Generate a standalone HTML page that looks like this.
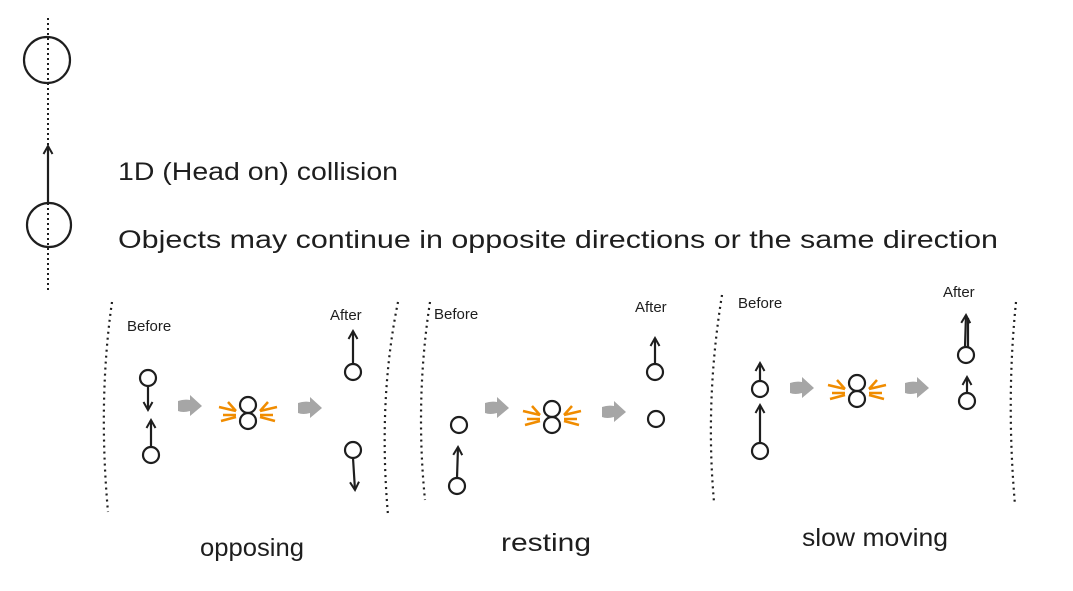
<!DOCTYPE html>
<html><head><meta charset="utf-8"><style>
html,body{margin:0;padding:0;background:#fff;width:1073px;height:591px;overflow:hidden}
text{font-family:"Liberation Sans",sans-serif;fill:#1e1e1e}
</style></head><body>
<svg width="1073" height="591" viewBox="0 0 1073 591" xmlns="http://www.w3.org/2000/svg">
<defs>
<marker id="ah" markerWidth="12" markerHeight="12" refX="9" refY="6" orient="auto" markerUnits="userSpaceOnUse">
<path d="M1,1.5 L9,6 L1,10.5" fill="none" stroke="#1e1e1e" stroke-width="2"/>
</marker>
<g id="gar"><path d="M0,-5 Q6,-7 12,-6 L12,-11 L24,0 L12,10 L12,5 Q5,7 0,5 Z" fill="#a6a6a6"/></g>
<g id="col">
<circle cx="0" cy="-8" r="8" fill="none" stroke="#1e1e1e" stroke-width="2.2"/>
<circle cx="0" cy="8" r="8" fill="none" stroke="#1e1e1e" stroke-width="2.2"/>
<g stroke="#f08c00" stroke-width="2.5" fill="none">
<path d="M-29,-6 L-12,-2 M-25,2 L-12,2 M-27,8 L-12,4 M-20,-11 L-12,-2"/>
<path d="M29,-6 L12,-2 M25,2 L12,2 M27,8 L12,4 M20,-11 L12,-2"/>
</g></g>
</defs>
<g fill="none" stroke="#1e1e1e" stroke-width="2.2">
<line x1="48" y1="18" x2="48" y2="292" stroke-width="2" stroke-dasharray="2,3"/>
<circle cx="47" cy="60" r="23"/>
<circle cx="49" cy="225" r="22"/>
<line x1="48" y1="203" x2="48" y2="146" marker-end="url(#ah)"/>
</g>
<text x="118" y="180" font-size="25" textLength="280" lengthAdjust="spacingAndGlyphs">1D (Head on) collision</text>
<text x="118" y="248" font-size="25" textLength="880" lengthAdjust="spacingAndGlyphs">Objects may continue in opposite directions or the same direction</text>

<g fill="none" stroke="#1e1e1e" stroke-width="2.2" stroke-dasharray="2,4">
<path d="M112,302 Q98,400 108,512"/>
<path d="M398,302 Q378,400 388,515"/>
<path d="M430,302 Q415,400 425,500"/>
<path d="M722,295 Q705,400 714,502"/>
<path d="M1016,302 Q1006,400 1015,505"/>
</g>
<g font-size="15">
<text x="127" y="331">Before</text><text x="330" y="320">After</text>
<text x="434" y="319">Before</text><text x="635" y="312">After</text>
<text x="738" y="308">Before</text><text x="943" y="297">After</text>
</g>
<g fill="none" stroke="#1e1e1e" stroke-width="2.2">
<circle cx="148" cy="378" r="8"/><circle cx="151" cy="455" r="8"/>
<line x1="148" y1="386" x2="148" y2="410" marker-end="url(#ah)"/>
<line x1="151" y1="447" x2="151" y2="420" marker-end="url(#ah)"/>
<circle cx="353" cy="372" r="8"/><circle cx="353" cy="450" r="8"/>
<line x1="353" y1="364" x2="353" y2="331" marker-end="url(#ah)"/>
<line x1="353" y1="458" x2="355" y2="490" marker-end="url(#ah)"/>
<circle cx="459" cy="425" r="8"/><circle cx="457" cy="486" r="8"/>
<line x1="457" y1="478" x2="458" y2="447" marker-end="url(#ah)"/>
<circle cx="655" cy="372" r="8"/><circle cx="656" cy="419" r="8"/>
<line x1="655" y1="364" x2="655" y2="338" marker-end="url(#ah)"/>
<circle cx="760" cy="389" r="8"/><circle cx="760" cy="451" r="8"/>
<line x1="760" y1="381" x2="760" y2="363" marker-end="url(#ah)"/>
<line x1="760" y1="443" x2="760" y2="405" marker-end="url(#ah)"/>
<circle cx="966" cy="355" r="8"/><circle cx="967" cy="401" r="8"/>
<line x1="965" y1="347" x2="966" y2="315" marker-end="url(#ah)"/>
<line x1="968" y1="347" x2="968" y2="318"/>
<line x1="967" y1="393" x2="967" y2="377" marker-end="url(#ah)"/>
</g>
<use href="#gar" x="178" y="406"/><use href="#gar" x="298" y="408"/>
<use href="#gar" x="485" y="408"/><use href="#gar" x="602" y="412"/>
<use href="#gar" x="790" y="388"/><use href="#gar" x="905" y="388"/>
<use href="#col" x="248" y="413"/>
<use href="#col" x="552" y="417"/>
<use href="#col" x="857" y="391"/>
<g font-size="25" text-anchor="middle">
<text x="252" y="556" textLength="104" lengthAdjust="spacingAndGlyphs">opposing</text>
<text x="546" y="551" textLength="90" lengthAdjust="spacingAndGlyphs">resting</text>
<text x="875" y="546" textLength="146" lengthAdjust="spacingAndGlyphs">slow moving</text>
</g>
</svg>
</body></html>
